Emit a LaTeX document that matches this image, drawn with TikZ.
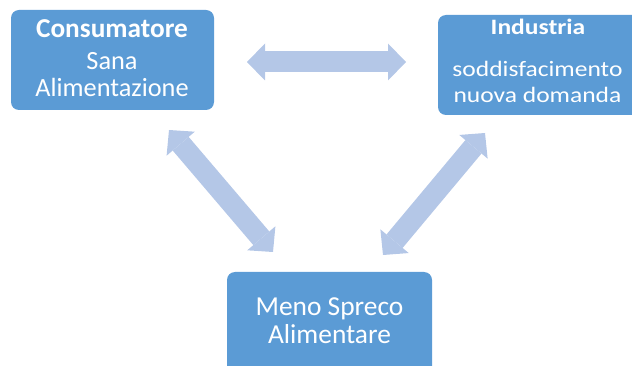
\documentclass[tikz,border=0pt]{standalone}
\usepackage{fontspec}
\setmainfont{Carlito}
\usetikzlibrary{arrows.meta}
\definecolor{boxblue}{RGB}{91,155,213}
\definecolor{arrowblue}{RGB}{180,199,231}
\newcommand{\wide}[1]{\scalebox{1.16}[1]{#1}}
\begin{document}
\begin{tikzpicture}[x=1pt,y=-1pt,
  box/.style={fill=boxblue, rounded corners=8pt, inner sep=0pt, outer sep=0pt},
  lbl/.style={text=white, anchor=base, inner sep=0pt},
  dbl/.style={draw=arrowblue, line width=21pt, {Triangle[width=37pt,length=18pt,line width=0pt,fill=arrowblue]}-{Triangle[width=37pt,length=18pt,line width=0pt,fill=arrowblue]}}]
\useasboundingbox (0,0) rectangle (632,366);
\clip (0,0) rectangle (632,366);
% boxes
\node[box, minimum width=203pt, minimum height=100pt, anchor=north west] (cons) at (11,10) {};
\node[box, minimum width=205pt, minimum height=100pt, anchor=north west] (ind) at (438,15) {};
\node[box, minimum width=205pt, minimum height=110pt, anchor=north west] (meno) at (227,272) {};
% texts
\node[lbl, font=\fontsize{27.3}{30}\selectfont] (t1) at (112,38) {\textbf{Consumatore}};
\node[lbl, font=\fontsize{26.3}{30}\selectfont] (t2) at (112,70) {Sana};
\node[lbl, font=\fontsize{26.3}{30}\selectfont] (t3) at (112,97) {Alimentazione};
\node[lbl, font=\fontsize{22}{26}\selectfont] (t4) at (538,35) {\wide{\textbf{Industria}}};
\node[lbl, font=\fontsize{22}{26}\selectfont] (t5) at (537.5,77) {\wide{soddisfacimento}};
\node[lbl, font=\fontsize{22}{26}\selectfont] (t6) at (537.5,103) {\wide{nuova domanda}};
\node[lbl, font=\fontsize{27.4}{30}\selectfont] (t7) at (329.5,315) {Meno Spreco};
\node[lbl, font=\fontsize{27.4}{30}\selectfont] (t8) at (329.5,343) {Alimentare};
% arrow end points
\coordinate (h1) at (247,62);
\coordinate (h2) at (406,62);
\coordinate (l1) at (169,130);
\coordinate (l2) at (273,252);
\coordinate (r1) at (485,133);
\coordinate (r2) at (383,255);
\draw[dbl] (h1) -- (h2);
\draw[dbl] (l1) -- (l2);
\draw[dbl] (r1) -- (r2);
\end{tikzpicture}
\end{document}
